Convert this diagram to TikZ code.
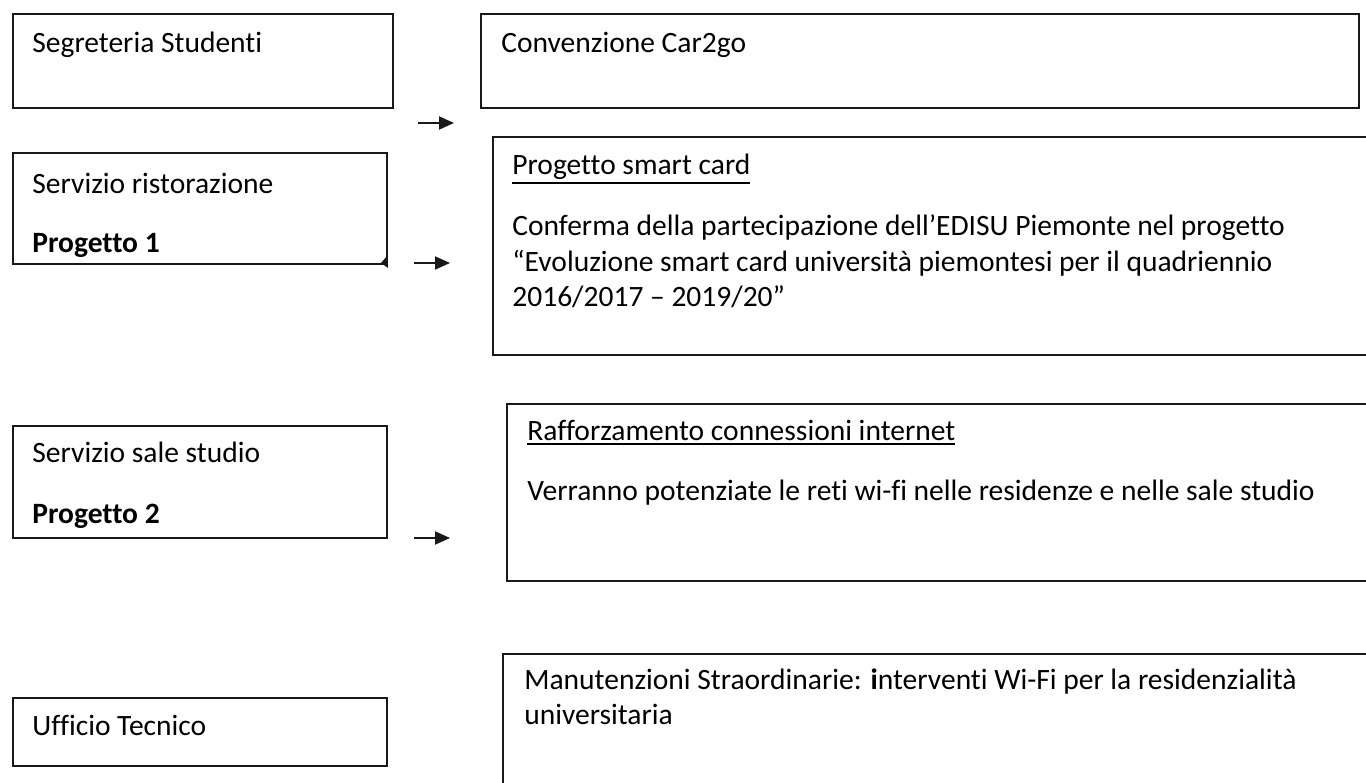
\documentclass[tikz,border=0pt]{standalone}
\usepackage{fontspec}
\setmainfont{Carlito}[Ligatures={NoCommon}]
\usetikzlibrary{arrows.meta}

\newcommand{\undrl}[1]{\vtop{\hbox{#1}\kern 1.3pt\hrule height 0.9pt}}

\tikzset{
  box/.style={draw=black!90, line width=1.1pt, rectangle, anchor=north west, inner sep=0pt},
  txt/.style={anchor=base west, inner sep=0pt, font=\fontsize{16.8}{20.2}\selectfont},
  para/.style={txt, text width=17cm, align=flush left},
  arr/.style={black!90, line width=1.1pt, -{Triangle[length=0.3cm,width=0.26cm]}}
}

\begin{document}
\begin{tikzpicture}[x=0.02cm,y=-0.02cm]
\clip (0,0) rectangle (1366,783);
% left column
\node[box, minimum width=7.6cm, minimum height=1.88cm] (segr) at (12,13) {};
\node[box, minimum width=7.48cm, minimum height=2.22cm] (rist) at (12,152) {};
\node[box, minimum width=7.48cm, minimum height=2.24cm] (sale) at (12,425) {};
\node[box, minimum width=7.48cm, minimum height=1.36cm] (uff) at (12,697) {};
% right column
\node[box, minimum width=17.56cm, minimum height=1.88cm] (car) at (480,13) {};
\node[box, minimum width=18cm, minimum height=4.36cm] (smart) at (492,136) {};
\node[box, minimum width=18cm, minimum height=3.54cm] (wifi) at (506,403) {};
\node[box, minimum width=18cm, minimum height=4cm] (manut) at (502,653) {};

% texts
\node[txt] (segr-t) at (32,53) {Segreteria Studenti};
\node[txt] (car-t) at (501,53) {Convenzione Car2go};
\node[txt] (rist-t) at (32,194) {Servizio ristorazione};
\node[txt] (rist-p) at (32,253) {\bfseries Progetto 1};
\node[txt] (smart-t) at (512,175) {\undrl{Progetto smart card}};
\node[para] (smart-b) at (512,236) {Conferma della partecipazione dell’EDISU Piemonte nel progetto\\
  “Evoluzione smart card università piemontesi per il quadriennio\\
  2016/2017 – 2019/20”};
\node[txt] (sale-t) at (32,463) {Servizio sale studio};
\node[txt] (sale-p) at (32,524) {\bfseries Progetto 2};
\node[txt] (wifi-t) at (527,441) {\undrl{Rafforzamento connessioni internet}};
\node[txt] (wifi-b) at (527,501) {Verranno potenziate le reti wi-fi nelle residenze e nelle sale studio};
\node[txt] (uff-t) at (32,735) {Ufficio Tecnico};
\node[para] (manut-b) at (524,689) {Manutenzioni Straordinarie: {\bfseries i}nterventi Wi-Fi per la residenzialità\\
  universitaria};

% arrows
\coordinate (a1s) at (418,123); \coordinate (a1e) at (454,123);
\coordinate (a2s) at (414,263); \coordinate (a2e) at (450,263);
\coordinate (a3s) at (414,538); \coordinate (a3e) at (450,538);
\draw[arr] (a1s) -- (a1e);
\draw[arr] (a2s) -- (a2e);
\draw[arr] (a3s) -- (a3e);
% small mark at the corner
\fill[black!90] (381,263) -- (387,256) -- (388,268) -- cycle;
\end{tikzpicture}
\end{document}
